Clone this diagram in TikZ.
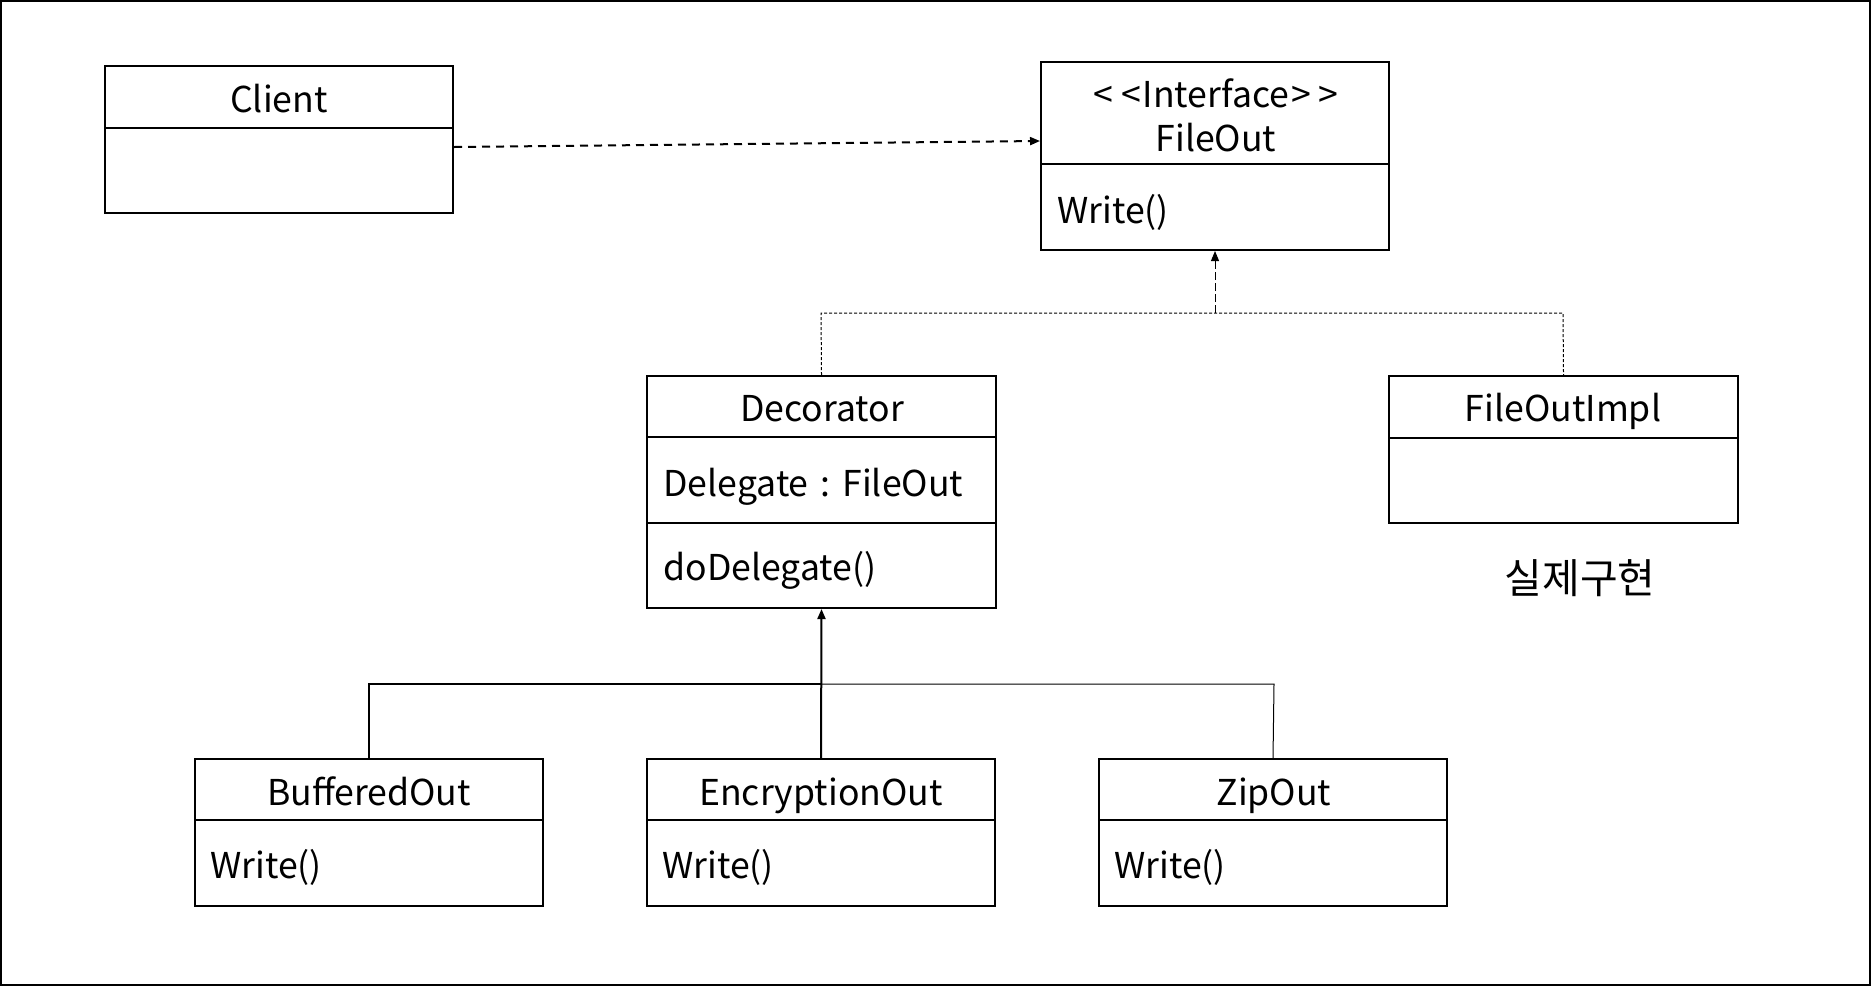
\documentclass[tikz,border=0pt]{standalone}
\usepackage{fontspec}
\setmainfont{Noto Sans CJK KR}
\usetikzlibrary{arrows.meta,fit}
\begin{document}
\begin{tikzpicture}[x=0.5pt,y=-0.5pt,
  box/.style={draw,line width=1pt,inner sep=0pt,fit=#1},
  lbl/.style={inner sep=0pt,text height=13pt,text depth=4pt,font=\fontsize{17.8}{22}\selectfont},
  divl/.style={line width=1pt},
  tip/.style={-{Triangle[length=5pt,width=4pt]}},
  thin/.style={line width=0.5pt}]
\useasboundingbox (0,0) rectangle (1871,986);
\draw[line width=1pt] (1,1) rectangle (1870,985);
% corners
\coordinate (c1) at (105,66);  \coordinate (c2) at (453,213);
\coordinate (f1) at (1041,62); \coordinate (f2) at (1389,250);
\coordinate (d1) at (647,376); \coordinate (d2) at (996,608);
\coordinate (i1) at (1389,376); \coordinate (i2) at (1738,523);
\coordinate (b1) at (195,759); \coordinate (b2) at (543,906);
\coordinate (e1) at (647,759); \coordinate (e2) at (995,906);
\coordinate (z1) at (1099,759); \coordinate (z2) at (1447,906);
% boxes
\node[box={(c1)(c2)}] (client) {};
\node[box={(f1)(f2)}] (fileout) {};
\node[box={(d1)(d2)}] (decorator) {};
\node[box={(i1)(i2)}] (impl) {};
\node[box={(b1)(b2)}] (buffered) {};
\node[box={(e1)(e2)}] (encrypt) {};
\node[box={(z1)(z2)}] (zip) {};
% dividers
\draw[divl] (105,128) -- (453,128);
\draw[divl] (1041,164) -- (1389,164);
\draw[divl] (647,437) -- (996,437);
\draw[divl] (647,523) -- (996,523);
\draw[divl] (1389,438) -- (1738,438);
\draw[divl] (195,820) -- (543,820);
\draw[divl] (647,820) -- (995,820);
\draw[divl] (1099,820) -- (1447,820);
% texts
\node[lbl] (tclient) at (279,103) {Client};
\node[lbl] (tst) at (1216,98) {<\kern4pt<\kern1pt Interface\kern1pt>\kern4pt>};
\node[lbl] (tfo) at (1216,142) {FileOut};
\node[lbl,anchor=west] (tfow) at (1057,214) {Write()};
\node[lbl] (tdec) at (822,412) {Decorator};
\node[lbl,anchor=west] (tdel) at (663,487) {Delegate\hspace{6pt}:\hspace{6pt}FileOut};
\node[lbl,anchor=west] (tdod) at (663,571) {doDelegate()};
\node[lbl] (timpl) at (1563,412) {FileOutImpl};
\node[lbl,font=\fontsize{20.5}{24}\selectfont] (tkor) at (1580,584) {실제구현};
\node[lbl] (tbuf) at (369,796) {BufferedOut};
\node[lbl,anchor=west] (tbufw) at (210,869) {Write()};
\node[lbl] (tenc) at (821,796) {EncryptionOut};
\node[lbl,anchor=west] (tencw) at (662,869) {Write()};
\node[lbl] (tzip) at (1274,796) {ZipOut};
\node[lbl,anchor=west] (tzipw) at (1114,869) {Write()};
% client -> fileout
\draw[line width=1pt,dash pattern=on 4pt off 3pt,tip] (client.east |- 0,147) -- (fileout.west |- 0,141);
% realization to FileOut
\coordinate (j1) at (1215,313);
\draw[thin,dash pattern=on 1.5pt off 1pt] (decorator.north) -- (821,313) -- (1563,313) -- (impl.north);
\draw[thin,dash pattern=on 4pt off 1.5pt,tip] (j1) -- (fileout.south);
% inheritance to Decorator
\coordinate (j2) at (821,684);
\draw[line width=1pt] (buffered.north) -- (369,684) -- (j2);
\draw[thin] (j2) -- (1274,684) -- (zip.north);
\draw[line width=1pt,tip] (encrypt.north) -- (decorator.south);
\end{tikzpicture}
\end{document}
